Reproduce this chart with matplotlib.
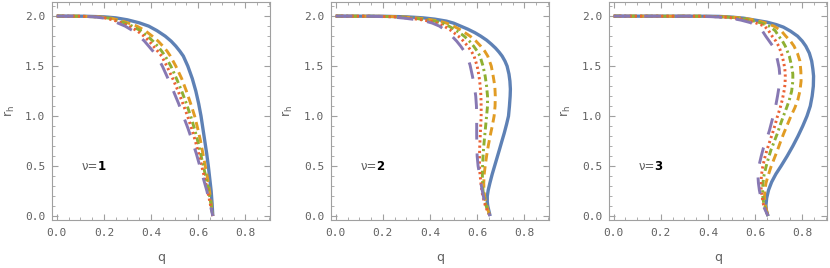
import numpy as np
import matplotlib.pyplot as plt
from matplotlib.ticker import MultipleLocator

plt.rcParams['mathtext.default'] = 'regular'
plt.rcParams['lines.scale_dashes'] = False

# (q, r_h) points, one list per curve
nu1_solid = [(0, 2.0), (0.12, 1.999), (0.2, 1.993), (0.25, 1.983), (0.3, 1.963), (0.35, 1.933), (0.39, 1.9),
             (0.425, 1.855), (0.46, 1.8), (0.485, 1.75), (0.505, 1.7), (0.522, 1.65), (0.537, 1.6),
             (0.556, 1.5), (0.575, 1.375), (0.59, 1.25), (0.602, 1.125), (0.612, 1.0), (0.62, 0.875),
             (0.628, 0.75), (0.636, 0.625), (0.643, 0.5), (0.649, 0.375), (0.655, 0.25), (0.659, 0.125),
             (0.662, 0.0)]
nu1_dash = [(0, 2.0), (0.1, 1.999), (0.18, 1.993), (0.23, 1.98), (0.28, 1.95), (0.31, 1.925), (0.34, 1.9),
            (0.375, 1.855), (0.405, 1.8), (0.43, 1.75), (0.45, 1.7), (0.468, 1.65), (0.482, 1.6),
            (0.505, 1.5), (0.53, 1.375), (0.55, 1.25), (0.568, 1.125), (0.585, 1.0), (0.598, 0.875),
            (0.61, 0.75), (0.62, 0.625), (0.63, 0.5), (0.64, 0.375), (0.648, 0.25), (0.655, 0.125),
            (0.662, 0.0)]
nu1_dashdot = [(0, 2.0), (0.1, 1.999), (0.17, 1.993), (0.22, 1.98), (0.265, 1.95), (0.295, 1.925), (0.32, 1.9),
               (0.355, 1.855), (0.385, 1.8), (0.408, 1.75), (0.428, 1.7), (0.445, 1.65), (0.46, 1.6),
               (0.484, 1.5), (0.508, 1.375), (0.53, 1.25), (0.55, 1.125), (0.568, 1.0), (0.584, 0.875),
               (0.598, 0.75), (0.61, 0.625), (0.622, 0.5), (0.634, 0.375), (0.645, 0.25), (0.654, 0.125),
               (0.662, 0.0)]
nu1_dot = [(0, 2.0), (0.1, 1.999), (0.165, 1.993), (0.21, 1.98), (0.255, 1.95), (0.282, 1.925), (0.305, 1.9),
           (0.34, 1.855), (0.37, 1.8), (0.392, 1.75), (0.41, 1.7), (0.428, 1.65), (0.445, 1.6),
           (0.467, 1.5), (0.492, 1.375), (0.515, 1.25), (0.535, 1.125), (0.555, 1.0), (0.572, 0.875),
           (0.588, 0.75), (0.602, 0.625), (0.615, 0.5), (0.628, 0.375), (0.64, 0.25), (0.651, 0.125),
           (0.662, 0.0)]
nu1_longdash = [(0, 2.0), (0.1, 1.999), (0.16, 1.993), (0.2, 1.98), (0.24, 1.95), (0.265, 1.925), (0.29, 1.9),
                (0.322, 1.855), (0.35, 1.8), (0.372, 1.75), (0.39, 1.7), (0.408, 1.65), (0.425, 1.6),
                (0.448, 1.5), (0.472, 1.375), (0.495, 1.25), (0.517, 1.125), (0.537, 1.0), (0.557, 0.875),
                (0.575, 0.75), (0.592, 0.625), (0.607, 0.5), (0.622, 0.375), (0.637, 0.25), (0.65, 0.125),
                (0.662, 0.0)]

nu2_solid = [(0, 2.0), (0.2, 1.999), (0.3, 1.993), (0.37, 1.983), (0.42, 1.97), (0.47, 1.95), (0.5, 1.93),
             (0.53, 1.9), (0.56, 1.87), (0.59, 1.835), (0.615, 1.8), (0.64, 1.76), (0.66, 1.72),
             (0.678, 1.68), (0.693, 1.64), (0.706, 1.6), (0.718, 1.55), (0.727, 1.5), (0.735, 1.42),
             (0.739, 1.35), (0.741, 1.27), (0.74, 1.2), (0.737, 1.1), (0.733, 1.0), (0.725, 0.92),
             (0.715, 0.83), (0.705, 0.75), (0.694, 0.66), (0.684, 0.58), (0.674, 0.5), (0.664, 0.42),
             (0.654, 0.33), (0.647, 0.26), (0.643, 0.2), (0.643, 0.14), (0.645, 0.1), (0.65, 0.05),
             (0.655, 0.0)]
nu2_dash = [(0, 2.0), (0.18, 1.999), (0.28, 1.993), (0.35, 1.98), (0.4, 1.965), (0.44, 1.95), (0.47, 1.93),
            (0.5, 1.9), (0.535, 1.855), (0.57, 1.8), (0.595, 1.75), (0.615, 1.7), (0.632, 1.65),
            (0.645, 1.6), (0.66, 1.5), (0.668, 1.4), (0.675, 1.3), (0.677, 1.2), (0.676, 1.1),
            (0.672, 1.0), (0.664, 0.9), (0.655, 0.8), (0.647, 0.7), (0.64, 0.6), (0.634, 0.5),
            (0.63, 0.42), (0.628, 0.33), (0.629, 0.25), (0.633, 0.18), (0.64, 0.11), (0.647, 0.05),
            (0.655, 0.0)]
nu2_dashdot = [(0, 2.0), (0.16, 1.999), (0.26, 1.993), (0.33, 1.98), (0.38, 1.965), (0.42, 1.95), (0.45, 1.93),
               (0.48, 1.9), (0.512, 1.855), (0.545, 1.8), (0.567, 1.75), (0.585, 1.7), (0.6, 1.65),
               (0.612, 1.6), (0.625, 1.5), (0.634, 1.4), (0.64, 1.3), (0.644, 1.2), (0.644, 1.1),
               (0.64, 1.0), (0.636, 0.9), (0.632, 0.8), (0.628, 0.7), (0.625, 0.6), (0.623, 0.5),
               (0.622, 0.42), (0.623, 0.33), (0.625, 0.25), (0.63, 0.18), (0.637, 0.11), (0.645, 0.05),
               (0.655, 0.0)]
nu2_dot = [(0, 2.0), (0.15, 1.999), (0.25, 1.993), (0.31, 1.98), (0.36, 1.965), (0.4, 1.95), (0.43, 1.93),
           (0.46, 1.9), (0.49, 1.855), (0.52, 1.8), (0.542, 1.75), (0.56, 1.7), (0.575, 1.65),
           (0.587, 1.6), (0.6, 1.5), (0.608, 1.4), (0.613, 1.3), (0.616, 1.2), (0.617, 1.1),
           (0.617, 1.0), (0.615, 0.9), (0.613, 0.8), (0.611, 0.7), (0.61, 0.6), (0.61, 0.5),
           (0.612, 0.42), (0.616, 0.33), (0.62, 0.25), (0.626, 0.18), (0.634, 0.11), (0.644, 0.05),
           (0.655, 0.0)]
nu2_longdash = [(0, 2.0), (0.14, 1.999), (0.23, 1.993), (0.29, 1.98), (0.34, 1.965), (0.38, 1.95), (0.41, 1.93),
                (0.44, 1.9), (0.467, 1.855), (0.493, 1.8), (0.513, 1.75), (0.53, 1.7), (0.545, 1.65),
                (0.557, 1.6), (0.57, 1.51), (0.58, 1.4), (0.588, 1.3), (0.594, 1.2), (0.597, 1.1),
                (0.598, 1.0), (0.598, 0.9), (0.598, 0.8), (0.599, 0.7), (0.6, 0.6), (0.604, 0.5),
                (0.61, 0.42), (0.616, 0.33), (0.622, 0.25), (0.628, 0.18), (0.636, 0.11), (0.645, 0.05),
                (0.655, 0.0)]

nu3_solid = [(0, 2.0), (0.4, 1.999), (0.45, 1.997), (0.5, 1.99), (0.55, 1.98), (0.6, 1.96), (0.65, 1.94),
             (0.69, 1.915), (0.72, 1.89), (0.75, 1.85), (0.78, 1.8), (0.8, 1.75), (0.815, 1.7),
             (0.83, 1.63), (0.84, 1.55), (0.845, 1.47), (0.848, 1.4), (0.847, 1.3), (0.842, 1.2),
             (0.834, 1.1), (0.82, 1.0), (0.802, 0.9), (0.782, 0.8), (0.76, 0.7), (0.736, 0.6),
             (0.71, 0.5), (0.688, 0.42), (0.67, 0.34), (0.657, 0.26), (0.649, 0.18), (0.646, 0.11),
             (0.648, 0.05), (0.655, 0.0)]
nu3_dash = [(0, 2.0), (0.38, 1.999), (0.45, 1.995), (0.5, 1.99), (0.55, 1.98), (0.6, 1.96), (0.64, 1.935),
            (0.68, 1.9), (0.71, 1.855), (0.73, 1.8), (0.75, 1.75), (0.765, 1.7), (0.78, 1.625),
            (0.79, 1.55), (0.794, 1.45), (0.795, 1.35), (0.79, 1.25), (0.781, 1.16), (0.768, 1.08),
            (0.752, 1.0), (0.737, 0.915), (0.722, 0.83), (0.708, 0.745), (0.695, 0.66), (0.681, 0.575),
            (0.667, 0.49), (0.656, 0.41), (0.646, 0.33), (0.641, 0.25), (0.64, 0.19), (0.642, 0.12),
            (0.646, 0.08), (0.655, 0.0)]
nu3_dashdot = [(0, 2.0), (0.37, 1.999), (0.44, 1.995), (0.49, 1.99), (0.54, 1.978), (0.58, 1.96), (0.62, 1.935),
               (0.66, 1.9), (0.685, 1.855), (0.7, 1.8), (0.716, 1.75), (0.728, 1.7), (0.745, 1.6),
               (0.755, 1.5), (0.76, 1.42), (0.76, 1.35), (0.755, 1.25), (0.745, 1.16), (0.733, 1.08),
               (0.72, 1.0), (0.707, 0.915), (0.695, 0.83), (0.681, 0.745), (0.667, 0.66), (0.656, 0.575),
               (0.646, 0.49), (0.638, 0.41), (0.633, 0.33), (0.632, 0.25), (0.633, 0.19), (0.637, 0.12),
               (0.643, 0.08), (0.655, 0.0)]
nu3_dot = [(0, 2.0), (0.36, 1.999), (0.43, 1.995), (0.47, 1.99), (0.52, 1.978), (0.56, 1.96), (0.6, 1.935),
           (0.64, 1.9), (0.657, 1.855), (0.672, 1.8), (0.688, 1.75), (0.7, 1.7), (0.712, 1.625),
           (0.72, 1.55), (0.726, 1.475), (0.728, 1.4), (0.727, 1.32), (0.722, 1.24), (0.715, 1.16),
           (0.706, 1.08), (0.695, 1.0), (0.685, 0.915), (0.674, 0.83), (0.662, 0.745), (0.65, 0.66),
           (0.64, 0.575), (0.632, 0.49), (0.627, 0.41), (0.625, 0.33), (0.626, 0.25), (0.63, 0.19),
           (0.635, 0.12), (0.642, 0.08), (0.655, 0.0)]
nu3_longdash = [(0, 2.0), (0.34, 1.999), (0.41, 1.995), (0.45, 1.99), (0.5, 1.978), (0.54, 1.96), (0.58, 1.935),
                (0.61, 1.9), (0.63, 1.855), (0.645, 1.8), (0.66, 1.75), (0.675, 1.7), (0.687, 1.63),
                (0.695, 1.56), (0.702, 1.48), (0.705, 1.4), (0.702, 1.3), (0.695, 1.2), (0.688, 1.11),
                (0.68, 1.03), (0.67, 0.94), (0.66, 0.85), (0.648, 0.765), (0.635, 0.68), (0.626, 0.6),
                (0.618, 0.52), (0.613, 0.45), (0.612, 0.4), (0.614, 0.33), (0.618, 0.26), (0.624, 0.19),
                (0.63, 0.14), (0.637, 0.09), (0.645, 0.05), (0.655, 0.0)]

nu_values = ['1', '2', '3']
panels = [
    [nu1_solid, nu1_dash, nu1_dashdot, nu1_dot, nu1_longdash],
    [nu2_solid, nu2_dash, nu2_dashdot, nu2_dot, nu2_longdash],
    [nu3_solid, nu3_dash, nu3_dashdot, nu3_dot, nu3_longdash],
]

colors = ['#5E81B5', '#E19C24', '#8FB032', '#EB6235', '#8778B3']
widths = [2.4, 2.1, 2.1, 2.1, 2.1]
dashes = [None, (6, 3.5), (5, 2.5, 1.6, 2.5), (1.6, 2.2), (12, 10)]

fig = plt.figure(figsize=(8.3, 2.68), dpi=100)
lefts = [0.0627, 0.3988, 0.7337]
frame_c = '#a0a0a0'
text_c = '#606060'

for k in range(3):
    ax = fig.add_axes([lefts[k], 0.179, 0.2627, 0.813])
    for curve, c, lw, d in zip(panels[k], colors, widths, dashes):
        pts = np.array(curve)
        ln, = ax.plot(pts[:, 0], pts[:, 1], color=c, lw=lw, solid_capstyle='butt',
                      solid_joinstyle='round')
        if d is not None:
            ln.set_dashes(d)
    ax.set_xlim(-0.02, 0.905)
    ax.set_ylim(-0.04, 2.14)
    ax.xaxis.set_major_locator(MultipleLocator(0.2))
    ax.xaxis.set_minor_locator(MultipleLocator(0.05))
    ax.yaxis.set_major_locator(MultipleLocator(0.5))
    ax.yaxis.set_minor_locator(MultipleLocator(0.1))
    ax.xaxis.set_major_formatter(plt.FuncFormatter(lambda v, p: '%.1f' % v))
    ax.yaxis.set_major_formatter(plt.FuncFormatter(lambda v, p: '%.1f' % v))
    ax.tick_params(which='both', direction='in', top=True, right=True, color=frame_c,
                   labelcolor=text_c, labelsize=8)
    ax.tick_params(which='major', length=4, width=0.8)
    ax.tick_params(which='minor', length=2, width=0.6)
    ax.tick_params(axis='x', pad=6)
    ax.tick_params(axis='y', pad=5)
    for lab in ax.get_xticklabels() + ax.get_yticklabels():
        lab.set_family('DejaVu Sans Mono')
    for s in ax.spines.values():
        s.set_color(frame_c)
        s.set_linewidth(0.8)
    ax.set_xlabel('q', color=text_c, fontsize=9, labelpad=9)
    ax.set_ylabel('r$_h$', color=text_c, fontsize=9, labelpad=6)
    ax.text(0.105, 0.5, 'ν=', color=text_c, fontsize=8.5, va='center', ha='left')
    ax.text(0.172, 0.5, nu_values[k], color='black', fontsize=8.5, fontweight='bold',
            va='center', ha='left')

plt.savefig('out.png', dpi=100)
